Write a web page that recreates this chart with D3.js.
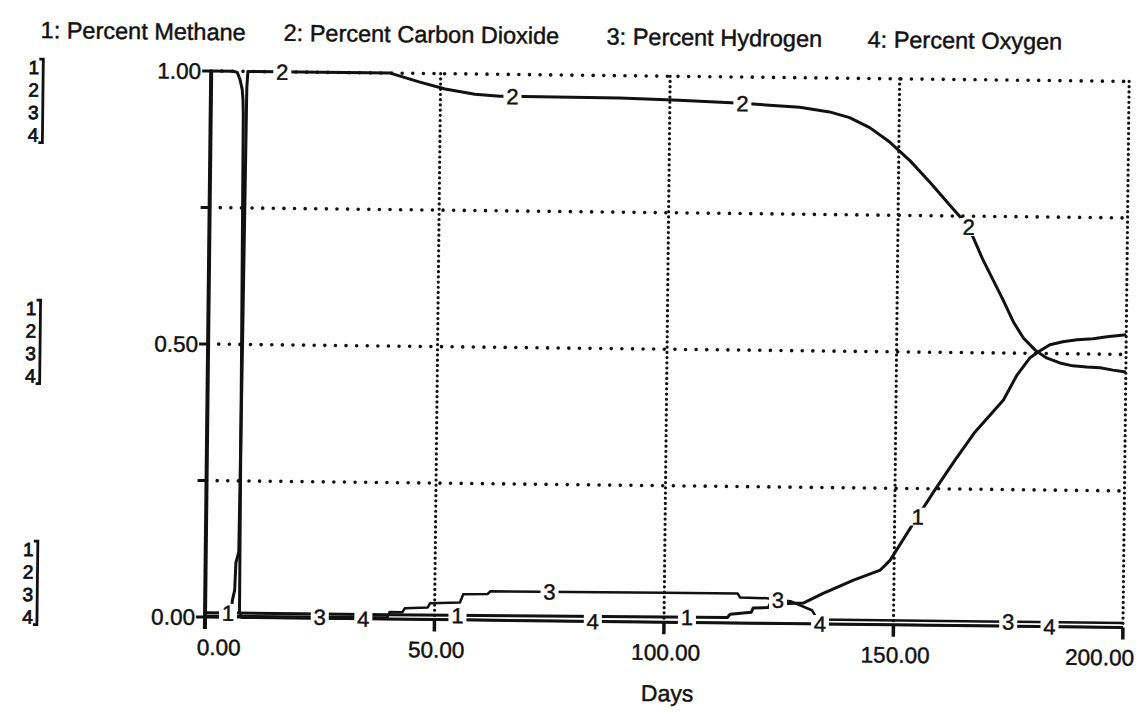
<!DOCTYPE html>
<html><head><meta charset="utf-8">
<script src="https://cdn.jsdelivr.net/npm/d3@7"></script>
<style>
body{margin:0;background:#fff}
svg{display:block}
text{font-family:"Liberation Sans",Arial,sans-serif;fill:#111;stroke:#111;stroke-width:0.45px}
</style>
</head><body>
<svg id="chart" width="1143" height="719"></svg>
<script>
// ---------------- data ----------------
const seriesNames = ["1: Percent Methane", "2: Percent Carbon Dioxide", "3: Percent Hydrogen", "4: Percent Oxygen"];
const seriesIds = ["1", "2", "3", "4"];

const xTicks = [0, 50, 100, 150, 200];
const xTickLabels = ["0.00", "50.00", "100.00", "150.00", "200.00"];
const yTicks = [0, 0.25, 0.5, 0.75, 1];
const yTickLabels = ["0.00", "", "0.50", "", "1.00"];
const xTitle = "Days";

// Series 1: Percent Methane
const methaneDays   = [0, 7, 40, 80, 113.8, 114.4, 119.0, 119.4, 122.7, 123.1, 127, 130.3, 134.6, 141.2, 147, 149.1, 154.5, 158.7, 163, 167.3, 170.5, 173.4, 176.3, 179.1, 180.9, 183.4, 186.2, 189.3, 192.8, 195.8, 200];
const methaneValues = [0.008, 0.008, 0.008, 0.009, 0.010, 0.016, 0.020, 0.028, 0.029, 0.036, 0.037, 0.038, 0.056, 0.081, 0.100, 0.118, 0.192, 0.248, 0.303, 0.355, 0.386, 0.414, 0.460, 0.492, 0.503, 0.516, 0.522, 0.526, 0.528, 0.532, 0.536];

// Series 2: Percent Carbon Dioxide
const co2Days   = [0, 5.8, 5.9, 6.4, 6.6, 7.2, 7.5, 7.8, 8.0, 39, 45.5, 51, 57.5, 63, 89, 102, 115.6, 128.3, 134.8, 139.2, 143.6, 148, 152.5, 157, 161.4, 165.3, 168.5, 173.1, 175.4, 177.6, 180.2, 182.7, 185.6, 188.4, 191.5, 194.4, 197.2, 200];
const co2Values = [0, 0, 0.03, 0.05, 0.10, 0.12, 0.50, 0.97, 1.0, 1.0, 0.984, 0.972, 0.963, 0.960, 0.959, 0.956, 0.952, 0.946, 0.938, 0.928, 0.910, 0.884, 0.850, 0.810, 0.768, 0.732, 0.672, 0.597, 0.557, 0.528, 0.506, 0.492, 0.483, 0.478, 0.476, 0.475, 0.471, 0.468];

// Series 3: Percent Hydrogen
const hydrogenDays   = [0, 39.7, 40.2, 43, 43.5, 48.5, 49, 55.5, 56.2, 61.5, 62.1, 100, 116, 116.5, 122.4, 124.8, 127.5, 132.2, 133.5, 170, 200];
const hydrogenValues = [0.002, 0.003, 0.013, 0.013, 0.020, 0.022, 0.030, 0.032, 0.047, 0.048, 0.053, 0.054, 0.054, 0.047, 0.046, 0.043, 0.041, 0.025, 0.008, 0.008, 0.008];

// Series 4: Percent Oxygen
const oxygenDays   = [0, 4.8, 5.7, 6.3, 6.8, 7.0, 7.1, 7.3, 7.5, 8, 60, 120, 200];
const oxygenValues = [1.0, 1.0, 0.998, 0.985, 0.967, 0.948, 0.92, 0.50, 0.01, 0, 0, 0, 0];

// days at which the series number is written on its curve
const labelDays1 = [5, 55, 105, 155];
const labelDays2 = [15.5, 65.7, 115.8, 165.4];
const labelDays3 = [25, 75, 124.8, 175];
const labelDays4 = [34.5, 84.5, 134, 184];

// ---------------- drawing ----------------
const svg = d3.select("#chart");
svg.append("rect").attr("width", 1143).attr("height", 719).attr("fill", "#fff");

// the scanned page is slightly tilted
const g = svg.append("g").attr("transform", "rotate(0.65,205,617)");

const x = d3.scaleLinear().domain([0, 200]).range([205, 1123]);
const y = d3.scaleLinear().domain([0, 1]).range([617, 71]);

const series = [
  {id: "1", days: methaneDays,  values: methaneValues,  width: 3,   labels: labelDays1},
  {id: "2", days: co2Days,      values: co2Values,      width: 3,   labels: labelDays2},
  {id: "3", days: hydrogenDays, values: hydrogenValues, width: 2.5, labels: labelDays3},
  {id: "4", days: oxygenDays,   values: oxygenValues,   width: 3,   labels: labelDays4}
];

// dotted horizontal grid lines
g.append("g").selectAll("line").data(yTicks.filter(d => d > 0)).join("line")
  .attr("x1", x(0)).attr("x2", x(200))
  .attr("y1", d => y(d)).attr("y2", d => y(d))
  .attr("stroke", "#111").attr("stroke-width", 3.6)
  .attr("stroke-linecap", "round").attr("stroke-dasharray", "0.01 10.6");

// dotted vertical grid lines
g.append("g").selectAll("line").data(xTicks.filter(d => d > 0)).join("line")
  .attr("x1", d => x(d)).attr("x2", d => x(d))
  .attr("y1", y(1)).attr("y2", y(0))
  .attr("stroke", "#111").attr("stroke-width", 3.2)
  .attr("stroke-linecap", "round").attr("stroke-dasharray", "0.01 5.2");

// axes
g.append("line").attr("x1", x(0)).attr("x2", x(0)).attr("y1", y(1)).attr("y2", y(0) + 12)
  .attr("stroke", "#111").attr("stroke-width", 4);
g.append("line").attr("x1", x(0)).attr("x2", x(200)).attr("y1", y(0)).attr("y2", y(0))
  .attr("stroke", "#111").attr("stroke-width", 2.2);

// x ticks (below the axis)
g.append("g").selectAll("line").data(xTicks).join("line")
  .attr("x1", d => x(d)).attr("x2", d => x(d))
  .attr("y1", y(0)).attr("y2", y(0) + 12)
  .attr("stroke", "#111").attr("stroke-width", 3.5);

// y ticks (left of the axis)
g.append("g").selectAll("line").data(yTicks).join("line")
  .attr("x1", x(0) - 9).attr("x2", x(0))
  .attr("y1", d => y(d)).attr("y2", d => y(d))
  .attr("stroke", "#111").attr("stroke-width", 3);

// y tick labels
g.append("g").selectAll("text").data(yTicks.map((d, i) => [d, yTickLabels[i]]).filter(d => d[1])).join("text")
  .attr("x", x(0) - 10).attr("y", d => y(d[0])).attr("dy", "0.36em")
  .attr("text-anchor", "end").attr("font-size", 22.5).text(d => d[1]);

// x tick labels (first and last kept inside the frame, as in the original)
const xLabelShift = (d, i) => i === 0 ? 14 : (i === xTicks.length - 1 ? -23 : 2);
g.append("g").selectAll("text").data(xTicks).join("text")
  .attr("x", (d, i) => x(d) + xLabelShift(d, i)).attr("y", 655)
  .attr("text-anchor", "middle").attr("font-size", 22.5).text((d, i) => xTickLabels[i]);

// x title
g.append("text").attr("x", 668).attr("y", 696).attr("text-anchor", "middle")
  .attr("font-size", 23).text(xTitle);

// legend
const legendX = [34, 277, 600, 861];
g.append("g").selectAll("text").data(seriesNames).join("text")
  .attr("x", (d, i) => legendX[i]).attr("y", 40).attr("font-size", 23.5).text(d => d);

// scale indicators at the left ("1] 2] 3] 4]")
const groupFirstBaselines = [76, 317, 558];
const pitch = 22.5;
groupFirstBaselines.forEach(b0 => {
  const gg = g.append("g");
  gg.selectAll("text").data(seriesIds).join("text")
    .attr("x", 33).attr("y", (d, i) => b0 + i * pitch)
    .attr("text-anchor", "end").attr("font-size", 19)
    .style("stroke-width", "0.8px").text(d => d);
  const top = b0 - 15, bot = b0 + 3 * pitch + 1;
  gg.append("path")
    .attr("d", `M33,${top} H37 V${bot} H33`)
    .attr("fill", "none").attr("stroke", "#111").attr("stroke-width", 2.8);
});

// series lines
const line = d3.line().x(d => x(d[0])).y(d => y(d[1]));
series.forEach(s => {
  g.append("path")
    .attr("d", line(s.days.map((t, i) => [t, s.values[i]])))
    .attr("fill", "none").attr("stroke", "#111")
    .attr("stroke-width", s.width).attr("stroke-linejoin", "round");
});

// series number labels on the curves
function valueAt(days, values, t) {
  const i = d3.bisectLeft(days, t);
  if (i <= 0) return values[0];
  if (i >= days.length) return values[values.length - 1];
  const t0 = days[i - 1], t1 = days[i];
  return values[i - 1] + (values[i] - values[i - 1]) * (t - t0) / (t1 - t0);
}
series.forEach(s => {
  s.labels.forEach(t => {
    const v = valueAt(s.days, s.values, t);
    const cx = x(t), cy = y(v);
    g.append("rect").attr("x", cx - 9).attr("y", cy - 9).attr("width", 18).attr("height", 18).attr("fill", "#fff");
    g.append("text").attr("x", cx).attr("y", cy).attr("dy", "0.36em")
      .attr("text-anchor", "middle").attr("font-size", 22).text(s.id);
  });
});
</script>
</body></html>
